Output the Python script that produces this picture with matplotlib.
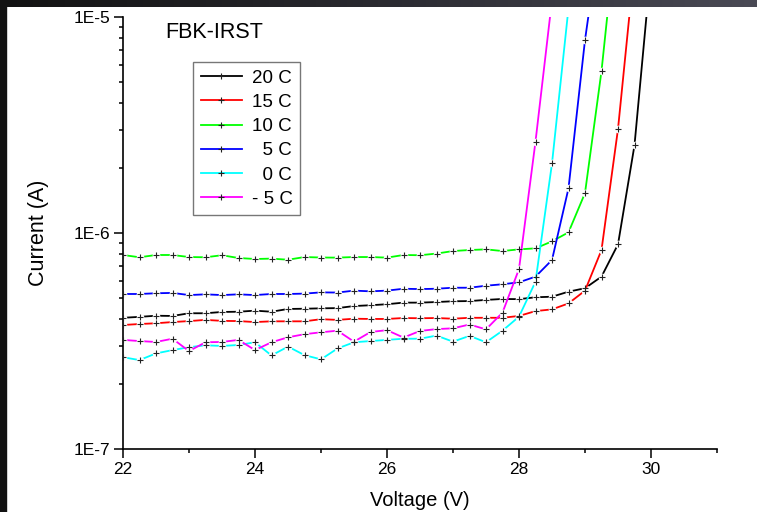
import numpy as np
import matplotlib
matplotlib.use('Agg')
from matplotlib import pyplot as plt
from matplotlib.lines import Line2D
from matplotlib.ticker import LogLocator, FixedLocator, NullFormatter

plt.rcParams['font.family'] = ['Liberation Sans', 'DejaVu Sans']

voltage = np.arange(22.0, 30.01, 0.25)

# current in A (values above 1E-5 leave the frame)
i_20C = [4.05e-7, 4.09e-7, 4.14e-7, 4.13e-7, 4.25e-7, 4.25e-7, 4.31e-7, 4.32e-7,
         4.37e-7, 4.32e-7, 4.45e-7, 4.46e-7, 4.48e-7, 4.49e-7, 4.59e-7, 4.63e-7,
         4.68e-7, 4.76e-7, 4.76e-7, 4.79e-7, 4.83e-7, 4.84e-7, 4.90e-7, 4.95e-7,
         4.94e-7, 5.04e-7, 5.07e-7, 5.35e-7, 5.55e-7, 6.28e-7, 8.86e-7, 2.55e-6,
         1.7e-5]
i_15C = [3.75e-7, 3.79e-7, 3.82e-7, 3.87e-7, 3.91e-7, 3.96e-7, 3.92e-7, 3.91e-7,
         3.87e-7, 3.90e-7, 3.90e-7, 3.90e-7, 3.99e-7, 3.96e-7, 4.01e-7, 4.00e-7,
         4.00e-7, 4.04e-7, 4.03e-7, 4.04e-7, 4.01e-7, 4.05e-7, 4.05e-7, 4.05e-7,
         4.13e-7, 4.35e-7, 4.43e-7, 4.72e-7, 5.41e-7, 8.34e-7, 3.03e-6, 1.75e-5]
i_10C = [7.91e-7, 7.72e-7, 7.91e-7, 7.91e-7, 7.74e-7, 7.72e-7, 7.89e-7, 7.66e-7,
         7.58e-7, 7.61e-7, 7.52e-7, 7.74e-7, 7.70e-7, 7.69e-7, 7.74e-7, 7.74e-7,
         7.69e-7, 7.91e-7, 7.89e-7, 8.03e-7, 8.25e-7, 8.34e-7, 8.40e-7, 8.25e-7,
         8.40e-7, 8.49e-7, 9.15e-7, 1.007e-6, 1.53e-6, 5.62e-6, 3.0e-5]
i_5C = [5.22e-7, 5.22e-7, 5.26e-7, 5.28e-7, 5.16e-7, 5.20e-7, 5.16e-7, 5.20e-7,
        5.16e-7, 5.22e-7, 5.22e-7, 5.24e-7, 5.31e-7, 5.30e-7, 5.41e-7, 5.37e-7,
        5.41e-7, 5.52e-7, 5.50e-7, 5.52e-7, 5.58e-7, 5.58e-7, 5.70e-7, 5.79e-7,
        5.91e-7, 6.28e-7, 7.50e-7, 1.61e-6, 7.82e-6, 2.7e-5]
i_0C = [2.66e-7, 2.58e-7, 2.77e-7, 2.87e-7, 2.96e-7, 3.02e-7, 3.00e-7, 3.03e-7,
        3.12e-7, 2.71e-7, 2.98e-7, 2.72e-7, 2.60e-7, 2.92e-7, 3.12e-7, 3.16e-7,
        3.20e-7, 3.24e-7, 3.24e-7, 3.35e-7, 3.14e-7, 3.34e-7, 3.12e-7, 3.53e-7,
        4.10e-7, 5.95e-7, 2.10e-6, 1.1e-5]
i_m5C = [3.20e-7, 3.16e-7, 3.13e-7, 3.24e-7, 2.84e-7, 3.12e-7, 3.13e-7, 3.20e-7,
         2.87e-7, 3.12e-7, 3.29e-7, 3.40e-7, 3.47e-7, 3.53e-7, 3.14e-7, 3.48e-7,
         3.55e-7, 3.28e-7, 3.52e-7, 3.59e-7, 3.62e-7, 3.77e-7, 3.58e-7, 4.28e-7,
         6.81e-7, 2.65e-6, 1.2e-5]

series = [('20 C', i_20C, '#000000'),
          ('15 C', i_15C, '#ff0000'),
          ('10 C', i_10C, '#00ff00'),
          ('  5 C', i_5C, '#0000ff'),
          ('  0 C', i_0C, '#00ffff'),
          ('- 5 C', i_m5C, '#ff00ff')]

fig = plt.figure(figsize=(7.57, 5.12), dpi=100)
fig.patch.set_facecolor('white')

# dark slide frame along top and left edge
band = fig.add_axes([0, 1 - 7/512, 1, 7/512])
band.imshow(np.linspace(0, 1, 256).reshape(1, -1), aspect='auto',
            cmap=matplotlib.colors.LinearSegmentedColormap.from_list('f', ['#121212', '#2a2a30', '#4a4a55']))
band.axis('off')
fig.patches.append(plt.Rectangle((0, 0), 6/757, 1, transform=fig.transFigure,
                                 color='#121212', zorder=0))

ax = fig.add_axes([123/757, 1 - 449/512, 594/757, 432/512])
ax.set_zorder(2)

handles = []
for lab, cur, col in series:
    v = voltage[:len(cur)]
    ax.plot(v, cur, color=col, lw=1.3, marker='o', ms=4.5, mfc='white',
            mec='white', zorder=2)
    ax.plot(v, cur, ls='none', marker='+', ms=5, mew=0.8, color='#222222', zorder=3)
    handles.append(Line2D([], [], color=col, lw=1.3, marker='+', ms=5, mew=0.8,
                          mec='#222222'))

ax.set_yscale('log')
ax.set_ylim(1e-7, 1e-5)
ax.set_xlim(22, 31)

ax.spines['top'].set_visible(False)
ax.spines['right'].set_visible(False)
for s in ('left', 'bottom'):
    ax.spines[s].set_linewidth(1.2)

ax.set_xticks([22, 24, 26, 28, 30])
ax.xaxis.set_minor_locator(FixedLocator([23, 25, 27, 29, 31]))
ax.set_yticks([1e-7, 1e-6, 1e-5])
ax.set_yticklabels(['1E-7', '1E-6', '1E-5'])
ax.yaxis.set_minor_locator(LogLocator(base=10, subs=np.arange(2, 10)))
ax.yaxis.set_minor_formatter(NullFormatter())
ax.tick_params(which='major', direction='out', length=6.5, width=1.1,
               labelsize=12.5, pad=2.5)
ax.tick_params(which='minor', direction='out', length=3, width=1.1)

ax.set_xlabel('Voltage (V)', fontsize=14.5)
ax.xaxis.set_label_coords(0.5, -51/432)
ax.xaxis.label.set_va('center')
ax.set_ylabel('Current (A)', fontsize=15.5)
ax.yaxis.set_label_coords(-85/594, 0.5)
ax.yaxis.label.set_va('center')

ax.text((165 - 123)/594, (449 - 32)/432, 'FBK-IRST', transform=ax.transAxes,
        fontsize=15.5, va='center', ha='left')

leg = ax.legend(handles, [s[0] for s in series], loc='upper left',
                bbox_to_anchor=((193 - 123)/594, (449 - 62)/432),
                borderaxespad=0, fontsize=13.5, numpoints=1, handlelength=2.2,
                handletextpad=0.55, labelspacing=0.38, borderpad=0.4,
                fancybox=False, edgecolor='#777777', framealpha=1)
leg.get_frame().set_linewidth(1.0)

fig.savefig('out.png', dpi=100, facecolor='white')
